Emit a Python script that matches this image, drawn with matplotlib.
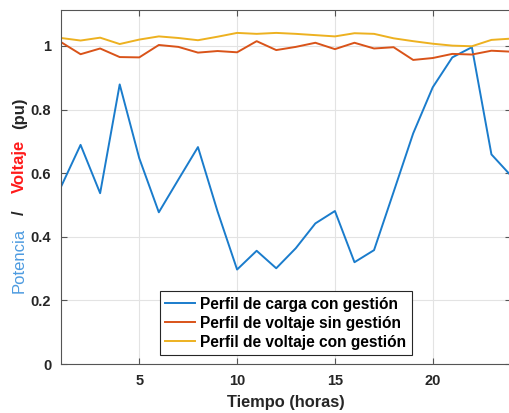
import numpy as np
import matplotlib.pyplot as plt

######################################
hours = list(range(1, 25))
cargaConGestion = [0.557, 0.689, 0.537, 0.879, 0.647, 0.477, 0.58, 0.682, 0.48, 0.297,
                   0.356, 0.301, 0.364, 0.442, 0.481, 0.320, 0.358, 0.541, 0.725, 0.870,
                   0.964, 0.996, 0.659, 0.592]
voltajeSinGestion = [1.012, 0.974, 0.992, 0.965, 0.964, 1.003, 0.997, 0.979, 0.984, 0.980,
                     1.015, 0.987, 0.997, 1.010, 0.990, 1.010, 0.992, 0.996, 0.956, 0.962,
                     0.975, 0.973, 0.985, 0.982]
voltajeConGestion = [1.025, 1.017, 1.026, 1.006, 1.020, 1.030, 1.025, 1.018, 1.029, 1.041,
                     1.038, 1.041, 1.038, 1.034, 1.030, 1.040, 1.038, 1.024, 1.015, 1.007,
                     1.001, 0.999, 1.019, 1.023]
legendLabels = ['Perfil de carga con gestión',
                'Perfil de voltaje sin gestión',
                'Perfil de voltaje con gestión']
xTicks = [5, 10, 15, 20]
yTicks = [0, 0.2, 0.4, 0.6, 0.8, 1]
######################################

plt.rcParams['font.family'] = ['Liberation Sans', 'DejaVu Sans']

W, H = 509, 413
fig = plt.figure(figsize=(W / 100, H / 100), dpi=100)
ax = fig.add_axes([61 / W, 1 - 364 / H, 450 / W, 354 / H])

ax.plot(hours, cargaConGestion, color='#1a7ccc', lw=1.4, label=legendLabels[0])
ax.plot(hours, voltajeSinGestion, color='#D95319', lw=1.4, label=legendLabels[1])
ax.plot(hours, voltajeConGestion, color='#EDB120', lw=1.4, label=legendLabels[2])

ax.set_xlim(1, 24)
ax.set_ylim(0, 1.113)
ax.set_xticks(xTicks)
ax.set_yticks(yTicks)
ax.set_yticklabels(['0', '0.2', '0.4', '0.6', '0.8', '1'])
ax.tick_params(direction='in', length=4, width=0.8, color='#555555',
               labelsize=10.5, pad=7, top=True, right=True)
for lab in ax.get_xticklabels() + ax.get_yticklabels():
    lab.set_fontweight('bold')
    lab.set_color('#262626')
ax.grid(True, color='#e3e3e3', lw=0.8)
ax.set_axisbelow(True)
for s in ax.spines.values():
    s.set_color('#555555')
    s.set_linewidth(0.8)

ax.set_xlabel('Tiempo (horas)', fontsize=11.8, fontweight='bold', color='#262626', labelpad=5)

# multi coloured y label, pieces share one baseline
yx = 24 / W
ylabelParts = [('Potencia', 260, '#4d9be0', 'normal'),
               ('/', 213, '#262626', 'bold'),
               ('Voltaje', 166, '#ff1a1a', 'bold'),
               ('(pu)', 113, '#262626', 'bold')]
for txt, ypix, col, wt in ylabelParts:
    fig.text(yx, 1 - ypix / H, txt, rotation=90, rotation_mode='anchor',
             ha='center', va='baseline', fontsize=12, fontweight=wt, color=col)

leg = ax.legend(loc='lower left', bbox_to_anchor=(160 / W, 1 - 355 / H),
                bbox_transform=fig.transFigure, borderaxespad=0,
                prop={'weight': 'bold', 'size': 11.2}, fancybox=False,
                framealpha=1, edgecolor='#262626', handlelength=1.9,
                labelspacing=0.25, borderpad=0.35, handletextpad=0.35)
leg.get_frame().set_linewidth(0.8)

fig.savefig('out.png', dpi=100)
